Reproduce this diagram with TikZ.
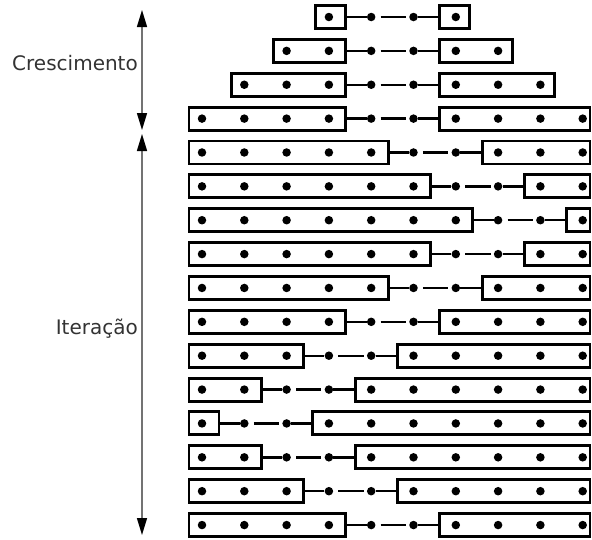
\documentclass[tikz,border=0pt]{standalone}
\usepackage{fontspec}
\newfontfamily\labelfont{DejaVu Sans}
\usetikzlibrary{arrows.meta}
\begin{document}
\begin{tikzpicture}[x=1pt,y=-1pt,
  cell/.style={draw=black, line width=2.9pt, inner sep=0pt, minimum height=23pt, rectangle},
  dot/.style={circle, fill=black, inner sep=0pt, minimum size=8.5pt},
  link/.style={line width=2.4pt, black},
  span/.style={draw=black!55, line width=1.4pt,
    {Triangle[length=17pt,width=10pt,color=black]}-{Triangle[length=17pt,width=10pt,color=black]}},
  lbl/.style={anchor=base east, text=black!80, font=\labelfont\fontsize{20}{24}\selectfont, inner sep=0pt}
]
\useasboundingbox (0,0) rectangle (592,539);

% buffer rows: first filled slot / last slot before the gap / last filled slot
\foreach \a/\b/\c [count=\k from 0] in {3/3/6, 2/3/7, 1/3/8, 0/3/9, 0/4/9, 0/5/9, 0/6/9, 0/5/9,
                                         0/4/9, 0/3/9, 0/2/9, 0/1/9, 0/0/9, 0/1/9, 0/2/9, 0/3/9} {
  \pgfmathsetmacro\yy{17+33.87*\k}
  \pgfmathsetmacro\lxa{202+42.3*\a-13}
  \pgfmathsetmacro\lxb{202+42.3*\b+17}
  \pgfmathsetmacro\rxa{202+42.3*(\b+3)-16}
  \pgfmathsetmacro\rxb{min(202+42.3*\c+14,590)}
  \pgfmathsetmacro\lw{\lxb-\lxa}
  \pgfmathsetmacro\rw{\rxb-\rxa}
  \pgfmathtruncatemacro\ga{\b+1}
  \pgfmathtruncatemacro\gb{\b+2}
  \pgfmathtruncatemacro\f{\b+3}
  % text before the gap
  \node[cell, minimum width=\lw pt] (L\k) at ({(\lxa+\lxb)/2},\yy) {};
  \foreach \i in {\a,...,\b} \node[dot] (d\k-\i) at ({202+42.3*\i},\yy) {};
  % text after the gap
  \node[cell, minimum width=\rw pt] (R\k) at ({(\rxa+\rxb)/2},\yy) {};
  \foreach \i in {\f,...,\c} \node[dot] (d\k-\i) at ({202+42.3*\i},\yy) {};
  % the gap
  \node[dot] (g\k-a) at ({202+42.3*\ga},\yy) {};
  \node[dot] (g\k-b) at ({202+42.3*\gb},\yy) {};
  \draw[link] (L\k.east) -- (g\k-a);
  \draw[link] ([xshift=5pt]g\k-a.east) -- ([xshift=-3pt]g\k-b.west);
  \draw[link] (g\k-b) -- (R\k.west);
}

% phase markers
\coordinate (cTop) at (142,10);
\coordinate (cBot) at (142,130);
\coordinate (iTop) at (142,134);
\coordinate (iBot) at (142,535);
\draw[span] (cTop) -- (cBot);
\draw[span] (iTop) -- (iBot);
\node[lbl] (grow) at (138,70.5) {Crescimento};
\node[lbl] (iter) at (138,334) {Iteração};
\end{tikzpicture}
\end{document}
